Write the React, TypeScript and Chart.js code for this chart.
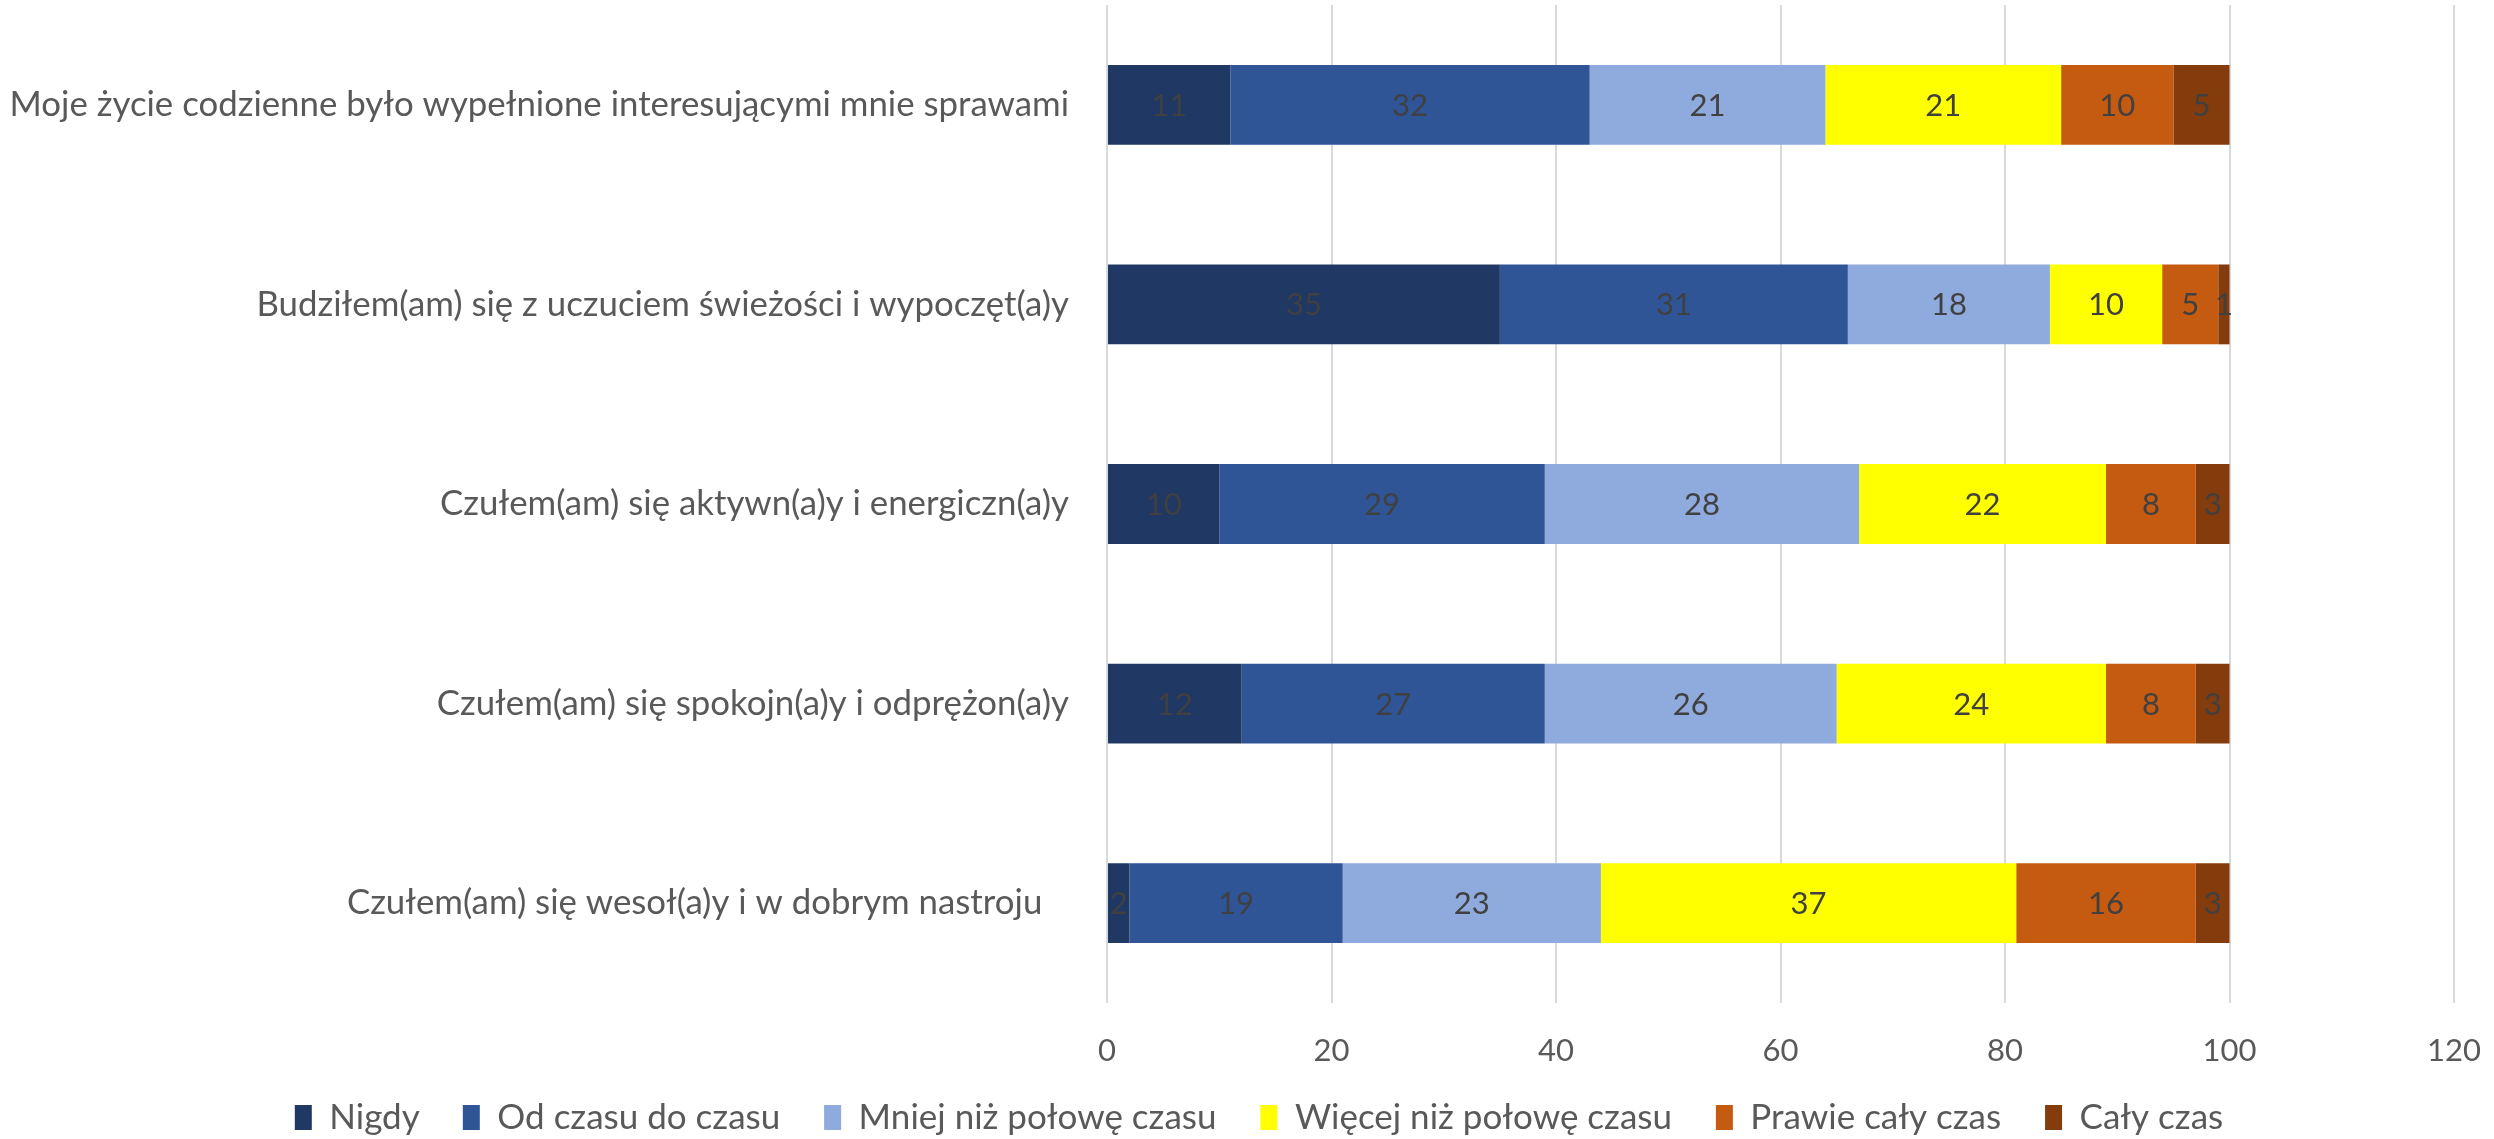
import React, { useEffect, useRef } from "react";
import { Chart, registerables } from "chart.js";

Chart.register(...registerables);

const categories = [
  "Moje życie codzienne było wypełnione interesującymi mnie sprawami",
  "Budziłem(am) się z uczuciem świeżości i wypoczęt(a)y",
  "Czułem(am) się aktywn(a)y i energiczn(a)y",
  "Czułem(am) się spokojn(a)y i odprężon(a)y",
  "Czułem(am) się wesoł(a)y i w dobrym nastroju   ",
];

const seriesNames = [
  "Nigdy",
  "Od czasu do czasu",
  "Mniej niż połowę czasu",
  "Więcej niż połowę czasu",
  "Prawie cały czas",
  "Cały czas",
];

const nigdy = [11, 35, 10, 12, 2];
const odCzasu = [32, 31, 29, 27, 19];
const mniejNiz = [21, 18, 28, 26, 23];
const wiecejNiz = [21, 10, 22, 24, 37];
const prawie = [10, 5, 8, 8, 16];
const calyCzas = [5, 1, 3, 3, 3];

const seriesValues = [nigdy, odCzasu, mniejNiz, wiecejNiz, prawie, calyCzas];
const seriesColors = ["#203864", "#2F5597", "#8FAADC", "#FFFF00", "#C55A11", "#843C0C"];

const xMin = 0;
const xMax = 120;
const xStep = 20;

const FONT = "Lato, 'Open Sans', sans-serif";
const RIGHT_PAD = -24;

const dataLabelPlugin = {
  id: "segmentLabels",
  afterDatasetsDraw(chart: any) {
    const ctx = chart.ctx;
    ctx.save();
    ctx.font = `31px ${FONT}`;
    ctx.fillStyle = "#404040";
    ctx.textAlign = "center";
    ctx.textBaseline = "middle";
    chart.data.datasets.forEach((ds: any, di: number) => {
      const meta = chart.getDatasetMeta(di);
      meta.data.forEach((el: any, i: number) => {
        const v = ds.data[i];
        const p = el.getProps(["x", "y", "base"], true);
        const cx = (p.x + p.base) / 2;
        ctx.fillText(String(v), cx, p.y + 1);
      });
    });
    ctx.restore();
  },
};

export default function App() {
  const ref = useRef<HTMLCanvasElement | null>(null);

  useEffect(() => {
    if (!ref.current) return;
    const chart = new Chart(ref.current, {
      type: "bar",
      data: {
        labels: categories,
        datasets: seriesValues.map((vals, i) => ({
          label: seriesNames[i],
          data: vals,
          backgroundColor: seriesColors[i],
          borderWidth: 0,
          categoryPercentage: 1,
          barPercentage: 0.4,
        })),
      },
      options: {
        indexAxis: "y",
        animation: false,
        responsive: false,
        maintainAspectRatio: false,
        layout: { padding: { top: 5, right: RIGHT_PAD, left: 0, bottom: -6 } },
        scales: {
          x: {
            stacked: true,
            min: xMin,
            max: xMax,
            ticks: {
              stepSize: xStep,
              color: "#595959",
              font: { family: FONT, size: 31 },
              padding: 29,
            },
            grid: { color: "#D9D9D9", lineWidth: 2, drawTicks: false },
            border: { display: false },
            afterFit(scale: any) {
              scale.height = 71;
              scale.paddingLeft = 0;
              scale.paddingRight = 40;
            },
          },
          y: {
            stacked: true,
            ticks: {
              color: "#595959",
              font: { family: FONT, size: 34.8 },
              padding: 38,
              autoSkip: false,
              callback(this: any, value: any) {
                const s = String(this.getLabelForValue(value));
                return s.replace(/ +$/, (m: string) => "\u00A0".repeat(m.length));
              },
            },
            grid: { display: false, drawTicks: false },
            border: { display: false },
            afterFit(scale: any) {
              scale.width = 1107;
              scale.paddingTop = 0;
              scale.paddingBottom = 0;
            },
          },
        },
        plugins: {
          legend: {
            position: "bottom",
            labels: {
              color: "#595959",
              font: { family: FONT, size: 35 },
              boxWidth: 17,
              boxHeight: 25,
              padding: 26,
              generateLabels(ch: any) {
                const items = Chart.defaults.plugins.legend.labels.generateLabels(ch);
                return items.map((it: any, i: number) => ({
                  ...it,
                  lineWidth: 0,
                  text: i < items.length - 1 ? it.text + "\u00A0\u00A0" : it.text,
                }));
              },
            },
          },
          tooltip: { enabled: false },
        },
      },
      plugins: [dataLabelPlugin],
    });
    return () => chart.destroy();
  }, []);

  return (
    <div style={{ position: "absolute", left: 0, top: 0, width: 2494, height: 1139, background: "#fff" }}>
      <canvas ref={ref} width={2494} height={1139} style={{ display: "block" }} />
    </div>
  );
}
